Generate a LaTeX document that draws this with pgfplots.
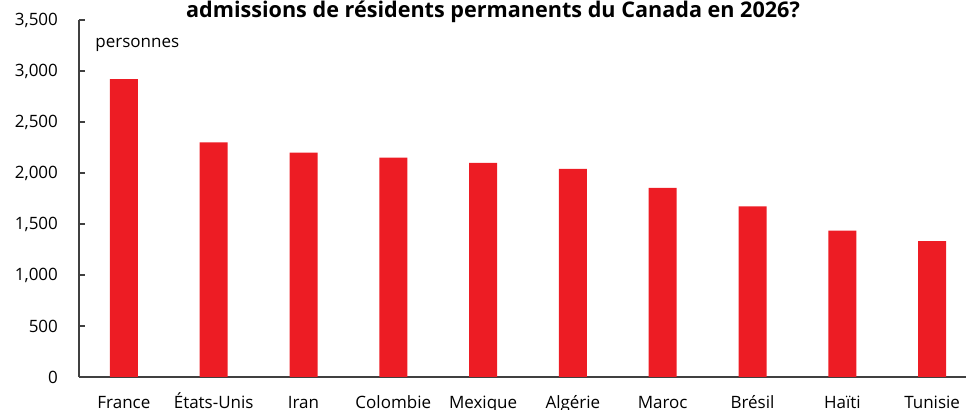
\documentclass[border=0pt]{standalone}
\usepackage{pgfplots}
\pgfplotsset{compat=1.18}
\usepackage{fontspec}
\setmainfont{Open Sans}
\definecolor{barred}{HTML}{ED1C24}
\definecolor{axgray}{HTML}{404040}
\begin{document}
\begin{tikzpicture}
\useasboundingbox (-39.5pt,-16.5pt) rectangle (443.5pt,188.5pt);
\clip (-39.5pt,-16.5pt) rectangle (443.5pt,188.5pt);
\begin{axis}[
  at={(0,0)}, anchor=south west,
  scale only axis, width=449pt, height=178.5pt,
  xmin=-0.5, xmax=9.5, ymin=0, ymax=3500,
  axis x line*=bottom, axis y line*=left,
  axis line style={axgray, line width=0.6pt},
  xtick={0,...,9},
  xticklabels={France,États-Unis,Iran,Colombie,Mexique,Algérie,Maroc,Brésil,Haïti,Tunisie},
  major x tick style={draw=none},
  extra x ticks={-0.5,0.5,1.5,2.5,3.5,4.5,5.5,6.5,7.5,8.5,9.5},
  extra x tick labels={},
  extra x tick style={tick align=outside, major tick length=3.5pt, tick style={axgray, line width=0.6pt}},
  ytick={0,500,...,3500},
  tick align=inside,
  major tick length=3pt,
  tick style={axgray, line width=0.6pt},
  /pgf/number format/.cd, 1000 sep={,}, assume math mode=true,
  /pgfplots/.cd,
  yticklabel style={font=\fontsize{8.5pt}{10pt}\selectfont, xshift=-7pt, text=black},
  xticklabel style={font=\fontsize{8.5pt}{10pt}\selectfont, anchor=base, yshift=-12.6pt, text=black},
  ybar, bar width=14pt,
  clip=false,
]
\addplot[fill=barred, draw=none] coordinates {
(0,2920) (1,2300) (2,2200) (3,2150) (4,2100) (5,2040) (6,1855) (7,1672) (8,1435) (9,1333)
};
\end{axis}
\node[anchor=base west, inner sep=0pt, font=\fontsize{8.5pt}{10pt}\selectfont] at (8pt,164.5pt) {personnes};
\node[anchor=base, inner sep=0pt, font=\fontsize{10.8pt}{12pt}\selectfont\bfseries] at (207pt,179.6pt) {admissions de résidents permanents du Canada en 2026?};
\end{tikzpicture}
\end{document}
